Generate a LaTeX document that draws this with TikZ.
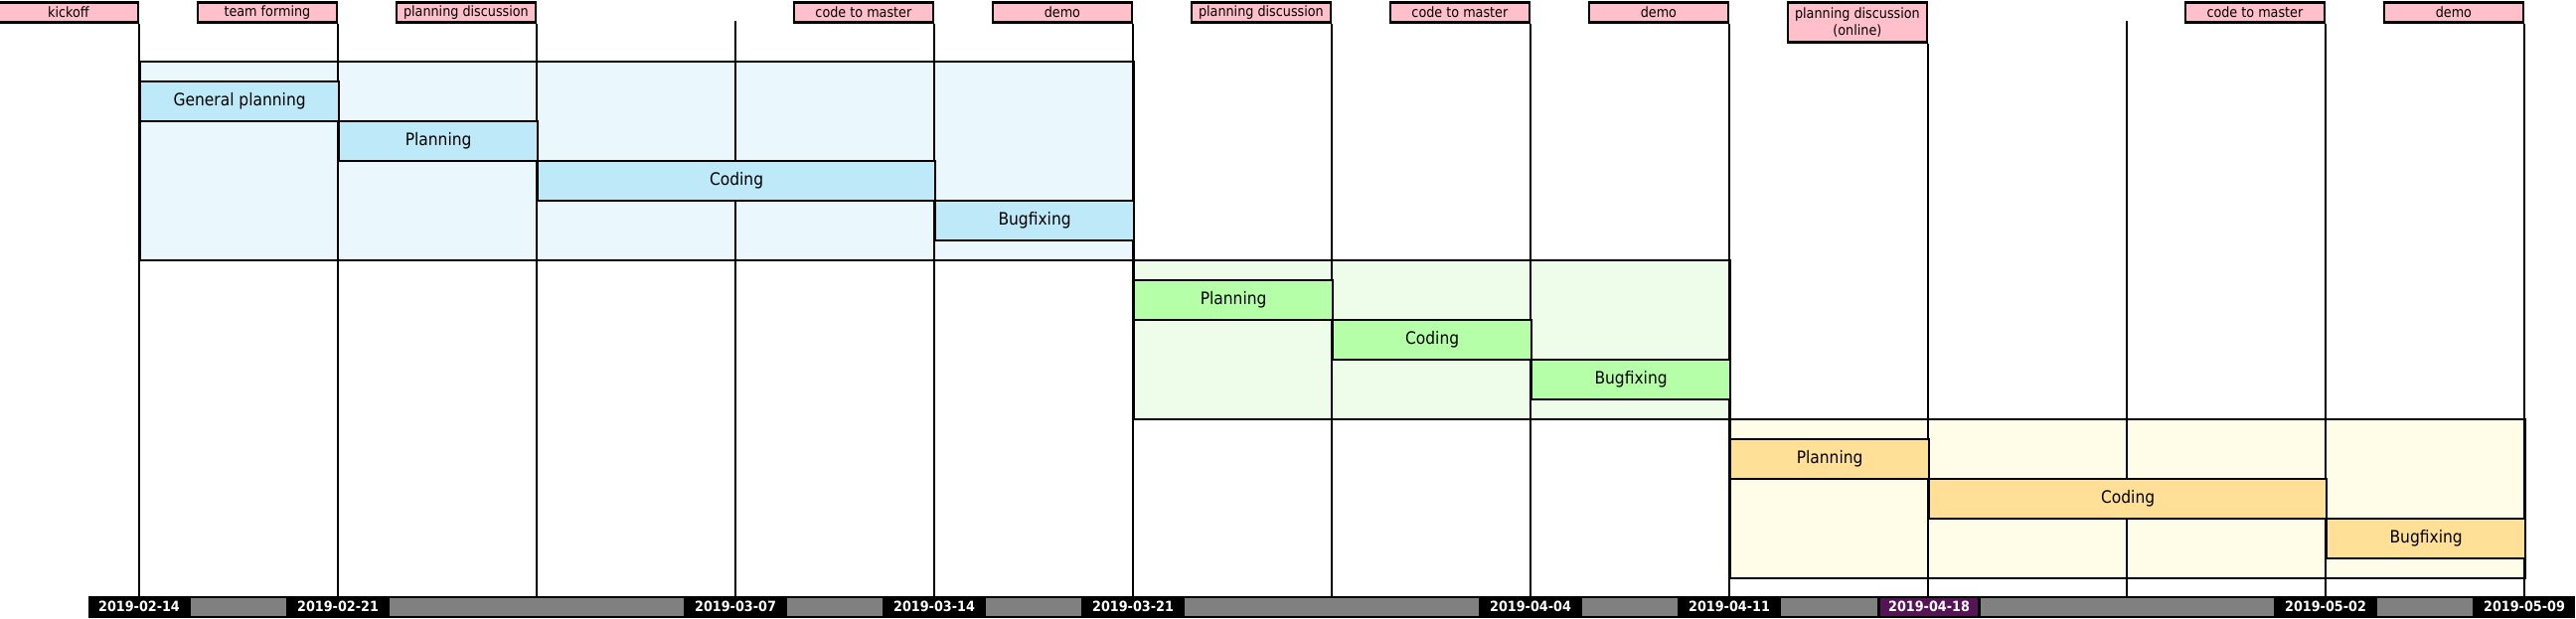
\documentclass[tikz,border=0pt]{standalone}
\usepackage{fontspec}
\newfontfamily\dvs[FakeStretch=0.9]{DejaVu Sans}
\definecolor{pinklab}{HTML}{FFC0CB}
\definecolor{bluebg}{HTML}{EAF8FD}
\definecolor{bluetask}{HTML}{BDE9F8}
\definecolor{greenbg}{HTML}{EEFDE9}
\definecolor{greentask}{HTML}{B5FFA8}
\definecolor{yellowbg}{HTML}{FFFDE8}
\definecolor{yellowtask}{HTML}{FFE096}
\definecolor{barpurple}{RGB}{86,20,86}
\definecolor{bargray}{HTML}{808080}
\begin{document}
\begin{tikzpicture}[x=0.5pt,y=-0.5pt,
  gridline/.style={line width=1.1pt},
  phasebg/.style={draw, line width=1.1pt, anchor=north west, inner sep=0pt, minimum height=80pt},
  task/.style={draw, line width=1.1pt, anchor=north west, inner sep=0pt, minimum height=20pt, minimum width=100pt, font=\dvs\fontsize{8.6}{10}\selectfont},
  lab/.style={draw, fill=pinklab, line width=1.1pt, anchor=north east, inner sep=0pt, minimum width=70pt, minimum height=10pt, align=center, font=\dvs\fontsize{7.1}{8.6}\selectfont},
  datelab/.style={fill=black, text=white, inner sep=0pt, minimum width=49pt, minimum height=9pt, font=\dvs\bfseries\fontsize{7.1}{8}\selectfont},
  grayseg/.style={fill=bargray}
]
\useasboundingbox (0,0) rectangle (2592,622);

% phase backgrounds
\node[phasebg, fill=bluebg, minimum width=500pt, minimum height=100pt] (ph1) at (140,61) {};
\node[phasebg, fill=greenbg, minimum width=300pt] (ph2) at (1140,261) {};
\node[phasebg, fill=yellowbg, minimum width=400pt] (ph3) at (1740,421) {};

% labels
\node[lab] (l0) at (140,1.3) {kickoff};
\node[lab] (l1) at (340,1.3) {team forming};
\node[lab] (l2) at (540,1.3) {planning discussion};
\coordinate (l3) at (740,21.3);
\node[lab] (l4) at (940,1.3) {code to master};
\node[lab] (l5) at (1140,1.3) {demo};
\node[lab] (l6) at (1340,1.3) {planning discussion};
\node[lab] (l7) at (1540,1.3) {code to master};
\node[lab] (l8) at (1740,1.3) {demo};
\node[lab, minimum height=20pt] (l9) at (1940,1.3) {planning discussion\\(online)};
\coordinate (l10) at (2140,21.3);
\node[lab] (l11) at (2340,1.3) {code to master};
\node[lab] (l12) at (2540,1.3) {demo};

% bottom coordinates of grid lines
\foreach \i in {0,...,12} {\coordinate (b\i) at (140+200*\i,600);}

% grid lines
\draw[gridline] (l0.south east) -- (b0);
\draw[gridline] (l1.south east) -- (b1);
\draw[gridline] (l2.south east) -- (b2);
\draw[gridline] (l3) -- (b3);
\draw[gridline] (l4.south east) -- (b4);
\draw[gridline] (l5.south east) -- (b5);
\draw[gridline] (l6.south east) -- (b6);
\draw[gridline] (l7.south east) -- (b7);
\draw[gridline] (l8.south east) -- (b8);
\draw[gridline] (l9.south east) -- (b9);
\draw[gridline] (l10) -- (b10);
\draw[gridline] (l11.south east) -- (b11);
\draw[gridline] (l12.south east) -- (b12);

% tasks phase 1
\node[task, fill=bluetask] (t1a) at (140,81) {General planning};
\node[task, fill=bluetask] (t1b) at (340,121) {Planning};
\node[task, fill=bluetask, minimum width=200pt] (t1c) at (540,161) {Coding};
\node[task, fill=bluetask] (t1d) at (940,201) {Bugfixing};
% tasks phase 2
\node[task, fill=greentask] (t2a) at (1140,281) {Planning};
\node[task, fill=greentask] (t2b) at (1340,321) {Coding};
\node[task, fill=greentask] (t2c) at (1540,361) {Bugfixing};
% tasks phase 3
\node[task, fill=yellowtask] (t3a) at (1740,441) {Planning};
\node[task, fill=yellowtask, minimum width=200pt] (t3b) at (1940,481) {Coding};
\node[task, fill=yellowtask] (t3c) at (2340,521) {Bugfixing};

% date bar
\node[fill=black, anchor=north west, inner sep=0pt, minimum width=1251pt, minimum height=11pt] (bar) at (89,600) {};
\fill[grayseg] (192,601.5) rectangle (288,619.5);
\fill[grayseg] (392,601.5) rectangle (688,619.5);
\fill[grayseg] (792,601.5) rectangle (888,619.5);
\fill[grayseg] (992,601.5) rectangle (1088,619.5);
\fill[grayseg] (1192,601.5) rectangle (1488,619.5);
\fill[grayseg] (1592,601.5) rectangle (1688,619.5);
\fill[grayseg] (1792,601.5) rectangle (1889,619.5);
\fill[grayseg] (1993,601.5) rectangle (2288,619.5);
\fill[grayseg] (2392,601.5) rectangle (2488,619.5);

\node[datelab] (d0) at (140,610.5) {2019-02-14};
\node[datelab] (d1) at (340,610.5) {2019-02-21};
\node[datelab] (d3) at (740,610.5) {2019-03-07};
\node[datelab] (d4) at (940,610.5) {2019-03-14};
\node[datelab] (d5) at (1140,610.5) {2019-03-21};
\node[datelab] (d7) at (1540,610.5) {2019-04-04};
\node[datelab] (d8) at (1740,610.5) {2019-04-11};
\node[datelab, fill=barpurple] (d9) at (1941,610.5) {2019-04-18};
\node[datelab] (d11) at (2340,610.5) {2019-05-02};
\node[datelab] (d12) at (2540,610.5) {2019-05-09};
\end{tikzpicture}
\end{document}
